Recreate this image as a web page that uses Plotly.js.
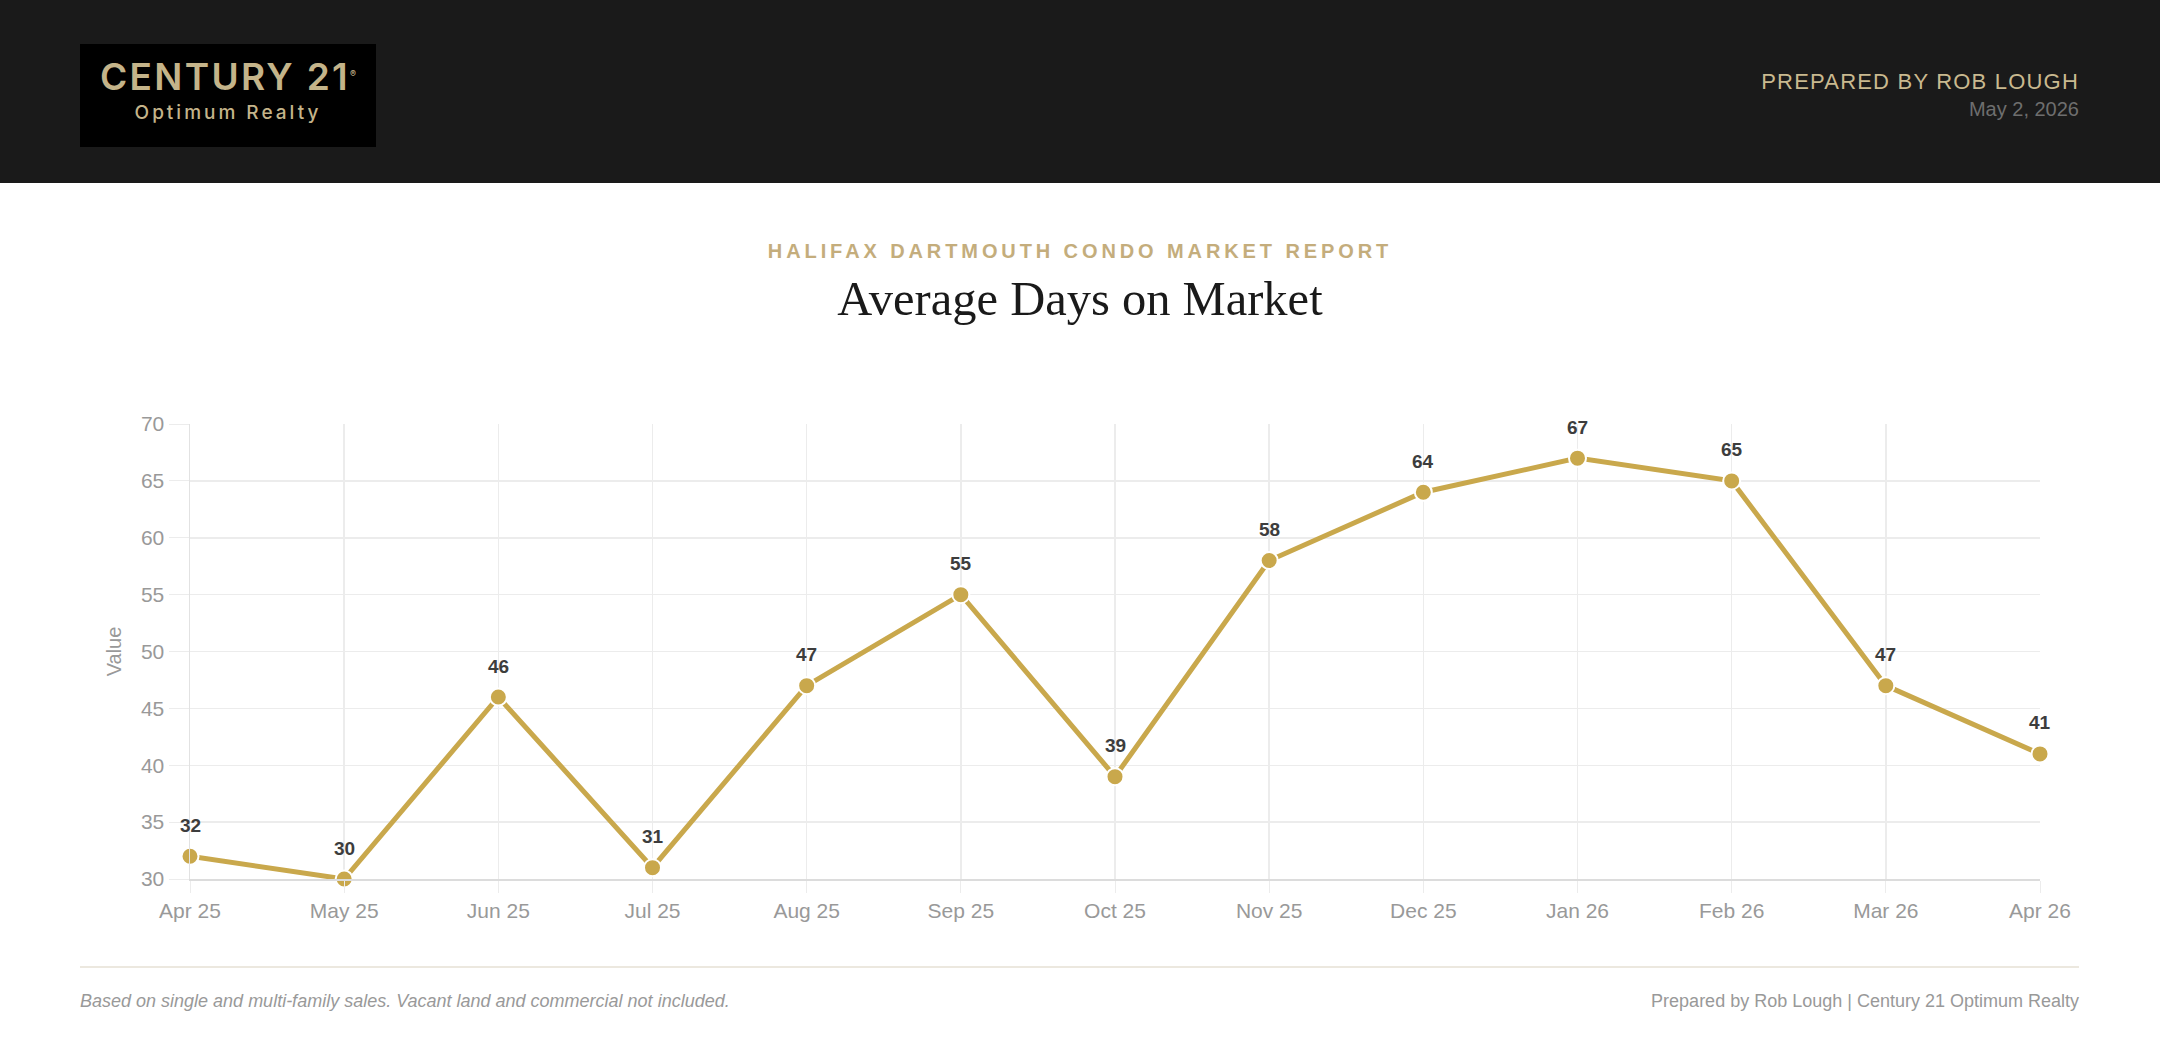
<!DOCTYPE html>
<html>
<head>
<meta charset="utf-8">
<script src="https://cdn.plot.ly/plotly-3.0.1.min.js"></script>
<style>
  html, body { margin: 0; padding: 0; background: #fff; }
  body { width: 2160px; height: 1048px; position: relative; overflow: hidden; font-family: "Liberation Sans", Arial, sans-serif; }
  .header { position: absolute; left: 0; top: 0; width: 2160px; height: 183px; background: #1a1a1a; }
  .logo { position: absolute; left: 80px; top: 44px; width: 296px; height: 103px; background: #000; text-align: center; color: #c4b48a; font-family: Inter, "Noto Sans", sans-serif; }
  .logo .big { position: absolute; left: 0; right: 0; top: 10px; font-size: 37px; font-weight: 600; letter-spacing: 2.3px; }
  .logo .small { position: absolute; left: 0; right: 0; top: 57px; font-size: 19px; font-weight: 500; letter-spacing: 3px; }
  .prep { position: absolute; right: 81px; top: 69px; font-size: 22px; letter-spacing: 1.2px; color: #c9b98f; }
  .date { position: absolute; right: 81px; top: 98px; font-size: 20px; color: #6e6e6e; }
  .kicker { position: absolute; left: 0; width: 2160px; top: 240px; text-align: center; font-size: 20px; font-weight: bold; letter-spacing: 3.9px; color: #c4ad7c; }
  .title { position: absolute; left: 0; width: 2160px; top: 271px; text-align: center; font-family: "Liberation Serif", "DejaVu Serif", serif; font-size: 48.5px; color: #1a1a1a; }
  #chart { position: absolute; left: 0; top: 330px; width: 2160px; height: 620px; }
  .rule { position: absolute; left: 80px; width: 1999px; top: 966px; height: 2px; background: #ece8df; }
  .foot-l { position: absolute; left: 80px; top: 991px; font-size: 18px; font-style: italic; color: #999; }
  .foot-r { position: absolute; right: 81px; top: 991px; font-size: 18px; color: #999; }
</style>
</head>
<body>
<div class="header">
  <div class="logo"><div class="big">CENTURY 21<sup style="font-size:9px;letter-spacing:0">®</sup></div><div class="small">Optimum Realty</div></div>
  <div class="prep">PREPARED BY ROB LOUGH</div>
  <div class="date">May 2, 2026</div>
</div>
<div class="kicker">HALIFAX DARTMOUTH CONDO MARKET REPORT</div>
<div class="title">Average Days on Market</div>
<div id="chart"></div>
<div class="rule"></div>
<div class="foot-l">Based on single and multi-family sales. Vacant land and commercial not included.</div>
<div class="foot-r">Prepared by Rob Lough | Century 21 Optimum Realty</div>

<script>
const months = ["Apr 25", "May 25", "Jun 25", "Jul 25", "Aug 25", "Sep 25", "Oct 25",
                "Nov 25", "Dec 25", "Jan 26", "Feb 26", "Mar 26", "Apr 26"];
const avg_days = [32, 30, 46, 31, 47, 55, 39, 58, 64, 67, 65, 47, 41];
const y_ticks = [30, 35, 40, 45, 50, 55, 60, 65, 70];

const gold = "#c9a84c";
const grid_color = "#ececec";
const tick_font = { family: "Liberation Sans, Arial, sans-serif", size: 21, color: "#999" };

const trace = {
  type: "scatter",
  mode: "lines+markers",
  x: months,
  y: avg_days,
  line: { color: gold, width: 5 },
  marker: { size: 17, color: gold, line: { color: "#fff", width: 2 } },
  cliponaxis: false,
  hoverinfo: "skip",
};

// value labels above each point
const labels = months.map((m, i) => ({
  x: m,
  y: avg_days[i],
  text: String(avg_days[i]),
  showarrow: false,
  yshift: 31,
  font: { family: "Liberation Sans, Arial, sans-serif", size: 19, color: "#3d3d3d", weight: "bold" },
}));

const layout = {
  width: 2160,
  height: 620,
  paper_bgcolor: "rgba(0,0,0,0)",
  plot_bgcolor: "rgba(0,0,0,0)",
  showlegend: false,
  hovermode: false,
  margin: { l: 190, r: 120, t: 94, b: 71, pad: 0 },
  xaxis: {
    type: "category",
    range: [0, months.length - 1],
    showgrid: true,
    gridcolor: grid_color,
    gridwidth: 1.5,
    ticks: "outside",
    ticklen: 12,
    tickcolor: grid_color,
    tickfont: tick_font,
    showline: true,
    linecolor: "#dcdcdc",
    linewidth: 2,
    zeroline: false,
    fixedrange: true,
  },
  yaxis: {
    range: [30, 70],
    tickvals: y_ticks,
    showgrid: true,
    gridcolor: grid_color,
    gridwidth: 1.5,
    ticks: "outside",
    ticklen: 20,
    tickcolor: grid_color,
    tickfont: tick_font,
    showline: true,
    linecolor: "#e2e2e2",
    linewidth: 1.5,
    zeroline: false,
    fixedrange: true,
    title: { text: "Value", font: { family: "Liberation Sans, Arial, sans-serif", size: 20, color: "#999" }, standoff: 14 },
  },
  annotations: labels,
};

Plotly.newPlot("chart", [trace], layout, { displayModeBar: false, staticPlot: true });
</script>
</body>
</html>
